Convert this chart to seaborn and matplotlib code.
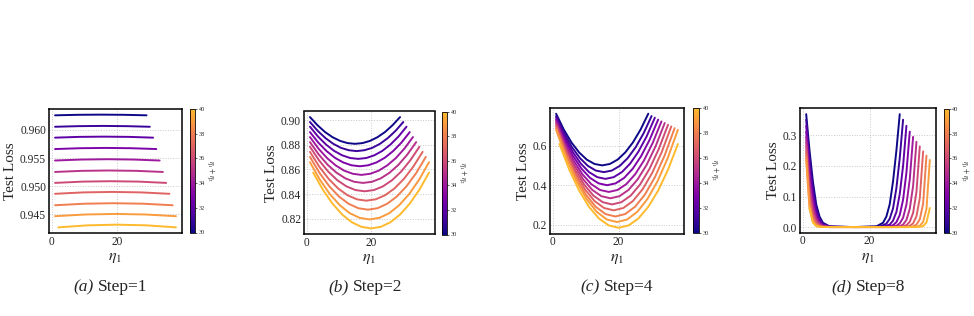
import numpy as np
import pandas as pd
import matplotlib
matplotlib.use("Agg")
import matplotlib.pyplot as plt
import seaborn as sns
from matplotlib.colors import ListedColormap, Normalize
from matplotlib.cm import ScalarMappable

# ---------------- data ----------------
eta_sum = [30, 31, 32, 33, 34, 35, 36, 37, 38, 39, 40]
eta1_lo = [1, 1, 1, 1, 1, 1, 1, 1, 1, 1, 2]
eta1_hi = [29, 30, 31, 32, 33, 34, 35, 36, 37, 38, 38]

# Step=1 : loss at 5 evenly spaced eta1 positions along each curve
loss_step1 = [
    [0.96258, 0.96267, 0.96270, 0.96267, 0.96258],
    [0.96055, 0.96066, 0.96070, 0.96066, 0.96055],
    [0.95862, 0.95876, 0.95880, 0.95876, 0.95862],
    [0.95660, 0.95675, 0.95680, 0.95675, 0.95660],
    [0.95457, 0.95474, 0.95480, 0.95474, 0.95457],
    [0.95254, 0.95274, 0.95280, 0.95274, 0.95254],
    [0.95060, 0.95083, 0.95090, 0.95083, 0.95060],
    [0.94867, 0.94892, 0.94900, 0.94892, 0.94867],
    [0.94664, 0.94691, 0.94700, 0.94691, 0.94664],
    [0.94470, 0.94500, 0.94510, 0.94500, 0.94470],
    [0.94272, 0.94308, 0.94320, 0.94308, 0.94272],
]

# Step=2 : loss at 13 evenly spaced eta1 positions
loss_step2 = [
    [0.9024, 0.8958, 0.8903, 0.8861, 0.8831, 0.8813, 0.8807, 0.8813, 0.8831, 0.8861, 0.8903, 0.8958, 0.9024],
    [0.8984, 0.8912, 0.8853, 0.8807, 0.8774, 0.8755, 0.8748, 0.8755, 0.8774, 0.8807, 0.8853, 0.8912, 0.8984],
    [0.8946, 0.8866, 0.8801, 0.8750, 0.8714, 0.8692, 0.8685, 0.8692, 0.8714, 0.8750, 0.8801, 0.8866, 0.8946],
    [0.8902, 0.8817, 0.8748, 0.8694, 0.8656, 0.8633, 0.8625, 0.8633, 0.8656, 0.8694, 0.8748, 0.8817, 0.8902],
    [0.8862, 0.8768, 0.8691, 0.8632, 0.8589, 0.8564, 0.8555, 0.8564, 0.8589, 0.8632, 0.8691, 0.8768, 0.8862],
    [0.8821, 0.8720, 0.8637, 0.8573, 0.8527, 0.8499, 0.8490, 0.8499, 0.8527, 0.8573, 0.8637, 0.8720, 0.8821],
    [0.8783, 0.8673, 0.8582, 0.8512, 0.8462, 0.8432, 0.8422, 0.8432, 0.8462, 0.8512, 0.8582, 0.8673, 0.8783],
    [0.8742, 0.8621, 0.8522, 0.8445, 0.8390, 0.8357, 0.8346, 0.8357, 0.8390, 0.8445, 0.8522, 0.8621, 0.8742],
    [0.8701, 0.8570, 0.8463, 0.8380, 0.8321, 0.8285, 0.8273, 0.8285, 0.8321, 0.8380, 0.8463, 0.8570, 0.8701],
    [0.8658, 0.8516, 0.8400, 0.8310, 0.8245, 0.8207, 0.8194, 0.8207, 0.8245, 0.8310, 0.8400, 0.8516, 0.8658],
    [0.8574, 0.8435, 0.8322, 0.8234, 0.8171, 0.8134, 0.8121, 0.8134, 0.8171, 0.8234, 0.8322, 0.8435, 0.8574],
]

# Step=4 : loss at 13 evenly spaced eta1 positions
loss_step4 = [
    [0.761, 0.6811, 0.6159, 0.5653, 0.5290, 0.5073, 0.500, 0.5073, 0.5290, 0.5653, 0.6159, 0.6811, 0.761],
    [0.749, 0.6624, 0.5917, 0.5368, 0.4974, 0.4739, 0.466, 0.4739, 0.4974, 0.5368, 0.5917, 0.6624, 0.749],
    [0.741, 0.6464, 0.5692, 0.5093, 0.4663, 0.4407, 0.432, 0.4407, 0.4663, 0.5093, 0.5692, 0.6464, 0.741],
    [0.731, 0.6297, 0.5470, 0.4828, 0.4367, 0.4093, 0.400, 0.4093, 0.4367, 0.4828, 0.5470, 0.6297, 0.731],
    [0.722, 0.6131, 0.5241, 0.4550, 0.4055, 0.3760, 0.366, 0.3760, 0.4055, 0.4550, 0.5241, 0.6131, 0.722],
    [0.714, 0.5977, 0.5027, 0.4290, 0.3762, 0.3446, 0.334, 0.3446, 0.3762, 0.4290, 0.5027, 0.5977, 0.714],
    [0.705, 0.5820, 0.4815, 0.4035, 0.3476, 0.3143, 0.303, 0.3143, 0.3476, 0.4035, 0.4815, 0.5820, 0.705],
    [0.697, 0.5673, 0.4613, 0.3790, 0.3201, 0.2849, 0.273, 0.2849, 0.3201, 0.3790, 0.4613, 0.5673, 0.697],
    [0.688, 0.5515, 0.4400, 0.3535, 0.2915, 0.2545, 0.242, 0.2545, 0.2915, 0.3535, 0.4400, 0.5515, 0.688],
    [0.680, 0.5374, 0.4209, 0.3305, 0.2657, 0.2270, 0.214, 0.2270, 0.2657, 0.3305, 0.4209, 0.5374, 0.680],
    [0.608, 0.4786, 0.3728, 0.2908, 0.2320, 0.1968, 0.185, 0.1968, 0.2320, 0.2908, 0.3728, 0.4786, 0.608],
]

# Step=8 : samples at edge offsets from each end of the curve, plus the centre
edge_offsets = [0, 1, 2, 3, 4, 5, 7]
loss_step8 = [
    [0.368, 0.250, 0.150, 0.075, 0.035, 0.015, 0.0030, 0.001, 0.0030, 0.015, 0.035, 0.075, 0.150, 0.250, 0.368],
    [0.350, 0.225, 0.128, 0.062, 0.028, 0.012, 0.0025, 0.001, 0.0025, 0.012, 0.028, 0.062, 0.128, 0.225, 0.350],
    [0.330, 0.200, 0.108, 0.050, 0.022, 0.009, 0.0020, 0.001, 0.0020, 0.009, 0.022, 0.050, 0.108, 0.200, 0.330],
    [0.311, 0.178, 0.090, 0.040, 0.017, 0.007, 0.0015, 0.001, 0.0015, 0.007, 0.017, 0.040, 0.090, 0.178, 0.311],
    [0.294, 0.156, 0.074, 0.031, 0.013, 0.005, 0.0012, 0.001, 0.0012, 0.005, 0.013, 0.031, 0.074, 0.156, 0.294],
    [0.278, 0.135, 0.060, 0.024, 0.009, 0.004, 0.0010, 0.001, 0.0010, 0.004, 0.009, 0.024, 0.060, 0.135, 0.278],
    [0.263, 0.115, 0.047, 0.018, 0.007, 0.003, 0.0010, 0.001, 0.0010, 0.003, 0.007, 0.018, 0.047, 0.115, 0.263],
    [0.247, 0.095, 0.036, 0.013, 0.005, 0.002, 0.0010, 0.001, 0.0010, 0.002, 0.005, 0.013, 0.036, 0.095, 0.247],
    [0.233, 0.077, 0.026, 0.009, 0.003, 0.0015, 0.0010, 0.001, 0.0010, 0.0015, 0.003, 0.009, 0.026, 0.077, 0.233],
    [0.219, 0.060, 0.018, 0.005, 0.002, 0.0012, 0.0010, 0.001, 0.0010, 0.0012, 0.002, 0.005, 0.018, 0.060, 0.219],
    [0.063, 0.016, 0.004, 0.002, 0.0012, 0.001, 0.0010, 0.001, 0.0010, 0.001, 0.0012, 0.002, 0.004, 0.016, 0.063],
]

captions = ["(a)", "(b)", "(c)", "(d)"]
steps = ["Step=1", "Step=2", "Step=4", "Step=8"]
yticks = [[0.945, 0.950, 0.955, 0.960], [0.82, 0.84, 0.86, 0.88, 0.90],
          [0.2, 0.4, 0.6], [0.0, 0.1, 0.2, 0.3]]
yfmt = ["{:.3f}", "{:.2f}", "{:.1f}", "{:.1f}"]
cbar_ticks = [30, 32, 34, 36, 38, 40]


# ---------------- build tables ----------------
def even_table(loss):
    rows = []
    for s, lo, hi, ys in zip(eta_sum, eta1_lo, eta1_hi, loss):
        xs = np.linspace(lo, hi, len(ys))
        for x, y in zip(xs, ys):
            rows.append((s, x, y))
    return pd.DataFrame(rows, columns=["s", "eta1", "loss"])


def edge_table(loss):
    rows = []
    for s, lo, hi, ys in zip(eta_sum, eta1_lo, eta1_hi, loss):
        xs = ([lo + o for o in edge_offsets] + [(lo + hi) / 2]
              + [hi - o for o in edge_offsets[::-1]])
        for x, y in zip(xs, ys):
            rows.append((s, x, y))
    return pd.DataFrame(rows, columns=["s", "eta1", "loss"])


tables = [even_table(loss_step1), even_table(loss_step2),
          even_table(loss_step4), edge_table(loss_step8)]

# ---------------- style ----------------
sns.set_style("whitegrid", {"grid.linestyle": ":", "grid.color": "#c8c8c8",
                            "axes.edgecolor": "black"})
plt.rcParams["font.family"] = ["Liberation Serif", "DejaVu Serif"]
plt.rcParams["mathtext.fontset"] = "stix"

cmap = ListedColormap(plt.get_cmap("plasma")(np.linspace(0.0, 0.85, 256)))
norm = Normalize(30, 40)

W, H = 974, 316
fig = plt.figure(figsize=(W / 100, H / 100), dpi=100)


def fa(x0, x1, y0, y1):
    return [x0 / W, 1 - y1 / H, (x1 - x0) / W, (y1 - y0) / H]


ax_px = [(49, 182, 109, 233), (304, 435, 111.5, 234), (550, 684, 108, 233.5), (800, 936, 108.5, 232.7)]
cb_px = [(190, 195, 109, 232.5), (442, 447, 111.7, 234.5), (693, 699, 108, 232.7), (943.5, 948.5, 109, 232.7)]
cap_split = [94, 349, 600, 852]

for i in range(4):
    ax = fig.add_axes(fa(*ax_px[i]))
    sns.lineplot(data=tables[i], x="eta1", y="loss", hue="s", palette=cmap,
                 hue_norm=norm, legend=False, linewidth=1.4, ax=ax,
                 estimator=None, sort=True)
    ax.set_xticks([0, 20])
    ax.set_yticks(yticks[i])
    ax.set_yticklabels([yfmt[i].format(v) for v in yticks[i]])
    ax.tick_params(labelsize=8.3, length=0, pad=2)
    ax.grid(True, linestyle=":", color="#c8c8c8", linewidth=0.7)
    for sp in ax.spines.values():
        sp.set_color("black")
        sp.set_linewidth(1.1)
    ax.set_xlabel(r"$\eta_1$", fontsize=11.5, labelpad=1)
    ax.set_ylabel("Test Loss", fontsize=11, labelpad=2)

    cax = fig.add_axes(fa(*cb_px[i]))
    cb = fig.colorbar(ScalarMappable(norm=norm, cmap=cmap), cax=cax)
    cb.set_ticks(cbar_ticks)
    cb.ax.tick_params(labelsize=4.5, length=1.5, width=0.5, pad=1)
    cb.outline.set_linewidth(0.6)
    cb.set_label(r"$\eta_1+\eta_2$", fontsize=5.5, rotation=270, labelpad=9)

    fig.text(cap_split[i] / W, 1 - 287 / H, captions[i], style="italic",
             ha="right", va="center", fontsize=12.5)
    fig.text((cap_split[i] + 4) / W, 1 - 287 / H, steps[i],
             ha="left", va="center", fontsize=12.5)

fig.savefig("out.png", dpi=100, facecolor="white")
